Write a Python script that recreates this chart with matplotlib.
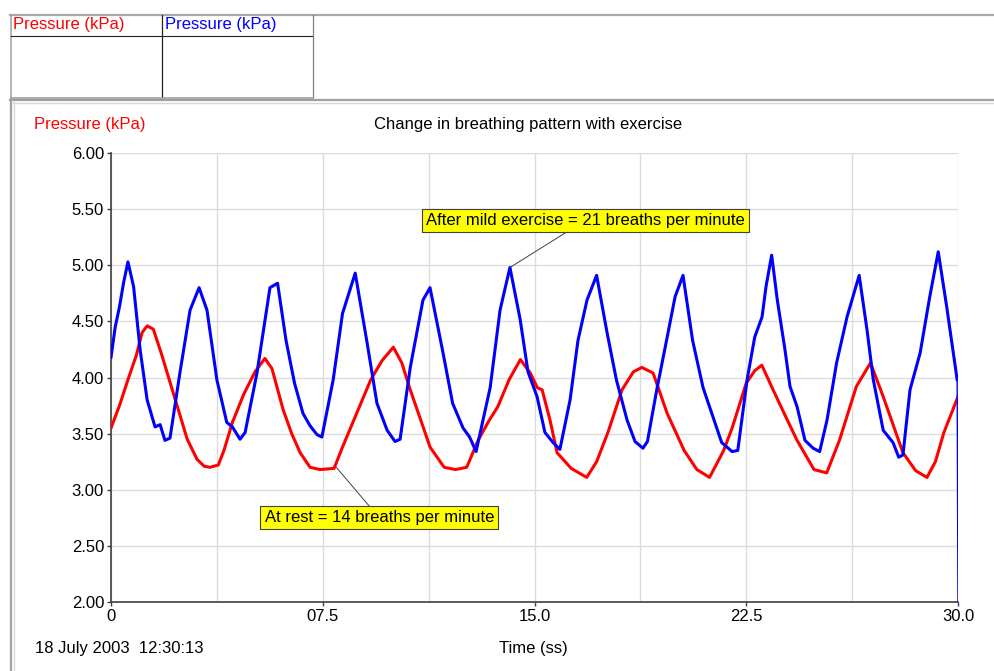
import matplotlib

matplotlib.use("Agg")
import matplotlib.pyplot as plt
from matplotlib.lines import Line2D

plt.rcParams["font.family"] = ["Liberation Sans", "DejaVu Sans"]

# Breathing trace at rest (red)
rest_time = [0.0, 0.3, 0.6, 0.9, 1.1, 1.28, 1.5, 1.8, 2.1, 2.4, 2.7, 3.05, 3.3, 3.5,
             3.8, 4.0, 4.3, 4.7, 5.1, 5.45, 5.7, 6.1, 6.4, 6.7, 7.05, 7.4, 7.9, 8.2,
             8.6, 9.2, 9.6, 10.0, 10.3, 10.6, 11.0, 11.3, 11.8, 12.2, 12.6, 13.0,
             13.4, 13.7, 14.1, 14.5, 14.85, 15.1, 15.27, 15.55, 15.8, 16.3, 16.85,
             17.2, 17.6, 18.1, 18.5, 18.8, 19.2, 19.7, 20.3, 20.75, 21.2, 21.7, 22.0,
             22.5, 22.8, 23.05, 23.45, 23.9, 24.3, 24.9, 25.35, 25.8, 26.4, 26.9,
             27.35, 28.05, 28.5, 28.9, 29.2, 29.5, 30.0]
rest_kpa = [3.55, 3.75, 3.98, 4.20, 4.40, 4.46, 4.43, 4.20, 3.95, 3.70, 3.45, 3.27,
            3.21, 3.20, 3.22, 3.35, 3.60, 3.85, 4.05, 4.17, 4.08, 3.71, 3.50, 3.33,
            3.20, 3.18, 3.19, 3.38, 3.62, 3.98, 4.15, 4.27, 4.13, 3.89, 3.60, 3.38,
            3.20, 3.18, 3.20, 3.44, 3.62, 3.74, 3.98, 4.16, 4.04, 3.91, 3.89, 3.62,
            3.33, 3.19, 3.11, 3.25, 3.51, 3.89, 4.05, 4.09, 4.04, 3.68, 3.35, 3.18,
            3.11, 3.35, 3.55, 3.95, 4.06, 4.11, 3.89, 3.65, 3.44, 3.18, 3.15, 3.44,
            3.92, 4.13, 3.83, 3.33, 3.17, 3.11, 3.25, 3.51, 3.83]

# Breathing trace after mild exercise (blue)
exer_time = [0.0, 0.15, 0.3, 0.45, 0.6, 0.8, 1.03, 1.28, 1.56, 1.74, 1.91, 2.09, 2.44,
             2.8, 3.12, 3.4, 3.75, 4.1, 4.3, 4.57, 4.75, 5.17, 5.63, 5.9, 6.2, 6.5,
             6.8, 7.05, 7.3, 7.47, 7.87, 8.2, 8.65, 9.07, 9.42, 9.78, 10.06, 10.24,
             10.6, 11.05, 11.3, 11.76, 12.1, 12.47, 12.7, 12.93, 13.43, 13.78, 14.13,
             14.49, 14.77, 15.09, 15.37, 15.66, 15.9, 16.26, 16.54, 16.86, 17.2,
             17.57, 17.9, 18.28, 18.56, 18.84, 19.0, 19.33, 19.7, 19.98, 20.26, 20.6,
             20.97, 21.32, 21.63, 22.0, 22.2, 22.53, 22.8, 23.06, 23.2, 23.4, 23.6,
             23.87, 24.05, 24.3, 24.58, 24.87, 25.1, 25.36, 25.7, 26.07, 26.5, 26.78,
             27.0, 27.35, 27.7, 27.9, 28.05, 28.3, 28.66, 29.0, 29.3, 29.6, 29.97,
             30.0]
exer_kpa = [4.18, 4.45, 4.63, 4.85, 5.03, 4.81, 4.25, 3.80, 3.56, 3.58, 3.44, 3.46,
            4.04, 4.60, 4.80, 4.60, 3.98, 3.60, 3.56, 3.45, 3.51, 4.04, 4.80, 4.84,
            4.33, 3.95, 3.68, 3.57, 3.49, 3.47, 3.98, 4.57, 4.93, 4.31, 3.77, 3.53,
            3.43, 3.45, 4.09, 4.69, 4.80, 4.22, 3.77, 3.55, 3.47, 3.34, 3.91, 4.60,
            4.98, 4.52, 4.05, 3.83, 3.51, 3.42, 3.36, 3.80, 4.33, 4.69, 4.91, 4.40,
            3.98, 3.62, 3.43, 3.37, 3.43, 3.89, 4.36, 4.72, 4.91, 4.33, 3.91, 3.65,
            3.42, 3.34, 3.35, 3.98, 4.36, 4.54, 4.81, 5.09, 4.69, 4.25, 3.92, 3.74,
            3.44, 3.37, 3.34, 3.62, 4.13, 4.54, 4.91, 4.42, 3.98, 3.53, 3.42, 3.29,
            3.31, 3.89, 4.22, 4.72, 5.12, 4.63, 3.98, 1.90]

x_ticks = [0, 7.5, 15.0, 22.5, 30.0]
x_tick_labels = ["0", "07.5", "15.0", "22.5", "30.0"]
y_ticks = [2.0, 2.5, 3.0, 3.5, 4.0, 4.5, 5.0, 5.5, 6.0]

W, H = 995, 671
FS = 12
fig = plt.figure(figsize=(W / 100, H / 100), dpi=100)


def fx(px):
    return px / W


def fy(py):
    return 1 - py / H


def hline(x0, x1, y, color, lw=1.0):
    fig.add_artist(Line2D([fx(x0), fx(x1)], [fy(y), fy(y)], color=color, lw=lw,
                          transform=fig.transFigure))


def vline(x, y0, y1, color, lw=1.0):
    fig.add_artist(Line2D([fx(x), fx(x)], [fy(y0), fy(y1)], color=color, lw=lw,
                          transform=fig.transFigure))


# window frame around the logger display
hline(10, 995, 15, "#a8a8a8", 1.6)
vline(11, 15, 99, "#a8a8a8", 1.2)
hline(11, 313, 36, "#202020", 0.8)
vline(162, 15, 99, "#202020", 0.9)
vline(313, 15, 99, "#808080", 0.9)
hline(11, 313, 98, "#a0a0a0", 1.2)
hline(10, 995, 100, "#a0a0a0", 1.6)
hline(13, 995, 102.5, "#d8d8d8", 1.0)
vline(11.5, 100, 671, "#a0a0a0", 1.6)
vline(14, 102, 671, "#d8d8d8", 1.0)

fig.text(fx(13), fy(25), "Pressure (kPa)", color="red", fontsize=FS, va="center")
fig.text(fx(165), fy(25), "Pressure (kPa)", color="blue", fontsize=FS, va="center")
fig.text(fx(34), fy(124), "Pressure (kPa)", color="red", fontsize=FS, va="center")
fig.text(fx(528), fy(124), "Change in breathing pattern with exercise", color="black",
         fontsize=FS, va="center", ha="center")
fig.text(fx(35), fy(649), "18 July 2003  12:30:13", fontsize=FS, va="center")
fig.text(fx(533), fy(649), "Time (ss)", fontsize=FS, va="center", ha="center")

ax = fig.add_axes([fx(111), fy(602), fx(958) - fx(111), fy(153) - fy(602)])
ax.set_xlim(0, 30)
ax.set_ylim(2, 6)

ax.plot(rest_time, rest_kpa, color="#ff0000", lw=2.2, zorder=3)
ax.plot(exer_time[:-1], exer_kpa[:-1], color="#0000ff", lw=2.2, zorder=4)
ax.plot(exer_time[-2:], exer_kpa[-2:], color="#0000ff", lw=1.0, zorder=4)

ax.set_xticks(x_ticks)
ax.set_xticklabels(x_tick_labels)
ax.set_xticks([3.75, 11.25, 18.75, 26.25], minor=True)
ax.set_yticks(y_ticks)
ax.set_yticklabels([f"{v:.2f}" for v in y_ticks])
ax.tick_params(axis="both", which="major", labelsize=FS, length=3, width=1,
               color="#404040", pad=2)
ax.tick_params(axis="x", which="minor", length=0)
ax.grid(True, which="both", color="#dcdcdc", lw=1)
ax.set_axisbelow(True)
for side in ["top", "right"]:
    ax.spines[side].set_visible(False)
for side in ["left", "bottom"]:
    ax.spines[side].set_color("#404040")
    ax.spines[side].set_linewidth(1.2)

box = dict(boxstyle="square,pad=0.25", fc="#ffff00", ec="#404040", lw=0.8)
line = dict(arrowstyle="-", color="#404040", lw=0.7, shrinkA=0, shrinkB=0)
ax.annotate("After mild exercise = 21 breaths per minute", xy=(14.13, 4.98),
            xytext=(16.8, 5.40), fontsize=FS, ha="center", va="center",
            bbox=box, arrowprops=line, zorder=6)
ax.annotate("At rest = 14 breaths per minute", xy=(7.98, 3.20),
            xytext=(9.5, 2.75), fontsize=FS, ha="center", va="center",
            bbox=box, arrowprops=line, zorder=6)

fig.savefig("out.png", dpi=100)
